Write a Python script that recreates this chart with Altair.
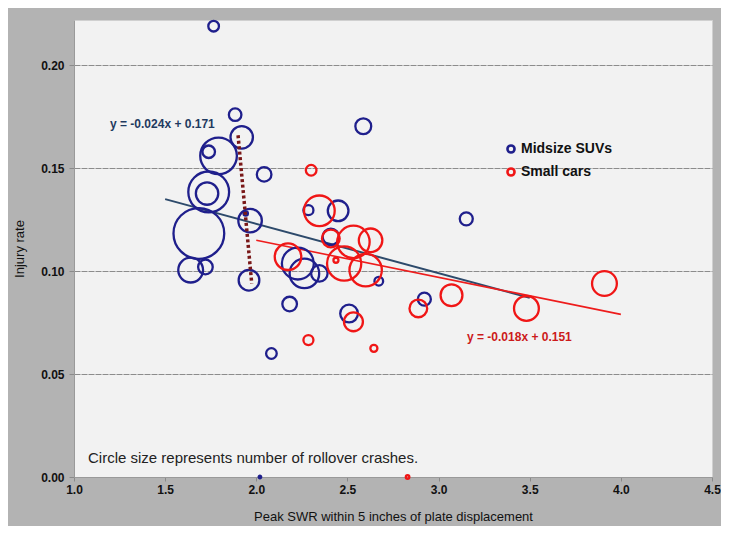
import altair as alt
import pandas as pd

# ---- data ----
suv_swr = [1.766, 1.884, 1.920, 1.793, 1.739, 2.043, 1.739, 1.730, 1.966, 1.942,
           1.685, 1.640, 1.721, 1.960, 2.587, 2.286, 2.449, 2.409, 3.152, 2.228,
           2.264, 2.346, 2.672, 2.183, 2.509, 2.922, 2.083, 2.020]
suv_rate = [0.219, 0.176, 0.165, 0.156, 0.158, 0.147, 0.1385, 0.1377, 0.1245, 0.128,
            0.1183, 0.1005, 0.102, 0.0956, 0.1704, 0.1296, 0.1293, 0.1167, 0.1254, 0.1037,
            0.0989, 0.0989, 0.0951, 0.084, 0.0794, 0.0864, 0.060, 0.0]
suv_crashes = [18, 25, 80, 214, 25, 34, 265, 80, 88, 3,
               410, 98, 34, 68, 40, 16, 68, 43, 27, 162,
               139, 43, 12, 34, 50, 27, 18, 1]

car_swr = [2.301, 2.346, 2.409, 2.533, 2.627, 2.174, 2.482, 2.600, 2.437, 2.889,
           3.071, 2.533, 2.286, 2.645, 3.482, 3.910, 2.830]
car_rate = [0.149, 0.1293, 0.1159, 0.1142, 0.115, 0.107, 0.1037, 0.1005, 0.1053, 0.0819,
            0.0883, 0.0754, 0.0665, 0.0625, 0.0819, 0.094, 0.0]
car_crashes = [18, 150, 50, 167, 88, 112, 186, 167, 4, 50,
               76, 57, 16, 8, 98, 98, 2]

groups = ["Midsize SUVs", "Small cars"]
trend_slope = [-0.024, -0.018]
trend_intercept = [0.171, 0.151]
trend_x_from = [1.5, 2.0]
trend_x_to = [3.5, 4.0]
trend_labels = ["y = -0.024x + 0.171", "y = -0.018x + 0.151"]

dotted_x = [1.90, 1.975]
dotted_y = [0.166, 0.094]

x_ticks = [1.0, 1.5, 2.0, 2.5, 3.0, 3.5, 4.0, 4.5]
y_ticks = [0.0, 0.05, 0.10, 0.15, 0.20]

note = "Circle size represents number of rollover crashes."

# ---- tables ----
pts = pd.concat([
    pd.DataFrame({"swr": suv_swr, "rate": suv_rate, "crashes": suv_crashes, "group": groups[0]}),
    pd.DataFrame({"swr": car_swr, "rate": car_rate, "crashes": car_crashes, "group": groups[1]}),
], ignore_index=True)

trend_rows = []
for g, m, b, x0, x1 in zip(groups, trend_slope, trend_intercept, trend_x_from, trend_x_to):
    for xv in (x0, x1):
        trend_rows.append({"group": g, "swr": xv, "rate": m * xv + b})
trend = pd.DataFrame(trend_rows)

dotted = pd.DataFrame({"swr": dotted_x, "rate": dotted_y})

FONT = "Liberation Sans"
BLUE = "#1f1f8c"
RED = "#f01616"

xscale = alt.Scale(domain=[1.0, 4.5], nice=False, zero=False)
yscale = alt.Scale(domain=[0, 0.222], nice=False)

xaxis = alt.Axis(values=x_ticks, format=".1f", title="Peak SWR within 5 inches of plate displacement",
                 grid=False, tickSize=4, labelPadding=3, titlePadding=15, labelFlush=False,
                 domainColor="#9a9a9a", tickColor="#8a8a8a",
                 labelFont=FONT, labelFontWeight="bold", labelFontSize=12, labelColor="#111111",
                 titleFont=FONT, titleFontWeight="normal", titleFontSize=13, titleColor="#111111")
yaxis = alt.Axis(values=y_ticks, format=".2f", title="Injury rate", labelFlush=False,
                 grid=True, gridColor="#8c8c8c", gridDash=[6, 1], gridWidth=1,
                 tickSize=5, labelPadding=5, titlePadding=14,
                 domainColor="#9a9a9a", tickColor="#8a8a8a",
                 labelFont=FONT, labelFontWeight="bold", labelFontSize=12, labelColor="#111111",
                 titleFont=FONT, titleFontWeight="normal", titleFontSize=13, titleColor="#111111")

circles = alt.Chart(pts).mark_point(shape="circle", filled=False, strokeWidth=2.3, opacity=1).encode(
    x=alt.X("swr:Q", scale=xscale, axis=xaxis),
    y=alt.Y("rate:Q", scale=yscale, axis=yaxis),
    size=alt.Size("crashes:Q", scale=alt.Scale(type="linear", domain=[0, 500], range=[0, 3141.6], zero=True),
                  legend=None),
    color=alt.Color("group:N", scale=alt.Scale(domain=groups, range=[BLUE, RED]),
                    legend=alt.Legend(title=None, orient="none", legendX=430, legendY=122,
                                      symbolType="circle", symbolSize=50, symbolStrokeWidth=2.6,
                                      symbolFillColor="transparent",
                                      labelFont=FONT, labelFontSize=14, labelFontWeight="bold",
                                      labelColor="#111111", labelOffset=3, rowPadding=5)),
)

suv_line = alt.Chart(trend).transform_filter(alt.datum.group == groups[0]).mark_line(
    color="#2d4a6b", strokeWidth=2).encode(x="swr:Q", y="rate:Q")
car_line = alt.Chart(trend).transform_filter(alt.datum.group == groups[1]).mark_line(
    color="#ee1c1c", strokeWidth=1.6).encode(x="swr:Q", y="rate:Q")

dots = alt.Chart(dotted).mark_line(color="#7a1818", strokeWidth=3.5, strokeDash=[3, 2.5]).encode(
    x="swr:Q", y="rate:Q")

eq_df = pd.DataFrame({"label": trend_labels, "group": groups})
eq_blue = alt.Chart(eq_df).transform_filter(alt.datum.group == groups[0]).mark_text(
    align="left", baseline="middle", font=FONT, fontWeight="bold", fontSize=12, color="#1f3a5f").encode(
    text="label:N", x=alt.value(36), y=alt.value(104))
eq_red = alt.Chart(eq_df).transform_filter(alt.datum.group == groups[1]).mark_text(
    align="left", baseline="middle", font=FONT, fontWeight="bold", fontSize=12, color="#cc1a1a").encode(
    text="label:N", x=alt.value(393), y=alt.value(317))

note_txt = alt.Chart(pd.DataFrame({"t": [note]})).mark_text(
    align="left", baseline="middle", font=FONT, fontSize=15, color="#222222").encode(
    text="t:N", x=alt.value(14), y=alt.value(438))

chart = alt.layer(suv_line, car_line, circles, dots, eq_blue, eq_red, note_txt).properties(
    width=638, height=457,
    background="#b3b3b3",
    padding={"left": 66, "top": 12, "right": 9, "bottom": 49},
    autosize=alt.AutoSizeParams(type="none"),
).configure_view(fill="#f2f2f2", stroke="#d0d0d0", strokeWidth=1)

chart.save("out.html", embed_options={"renderer": "svg", "actions": False})
